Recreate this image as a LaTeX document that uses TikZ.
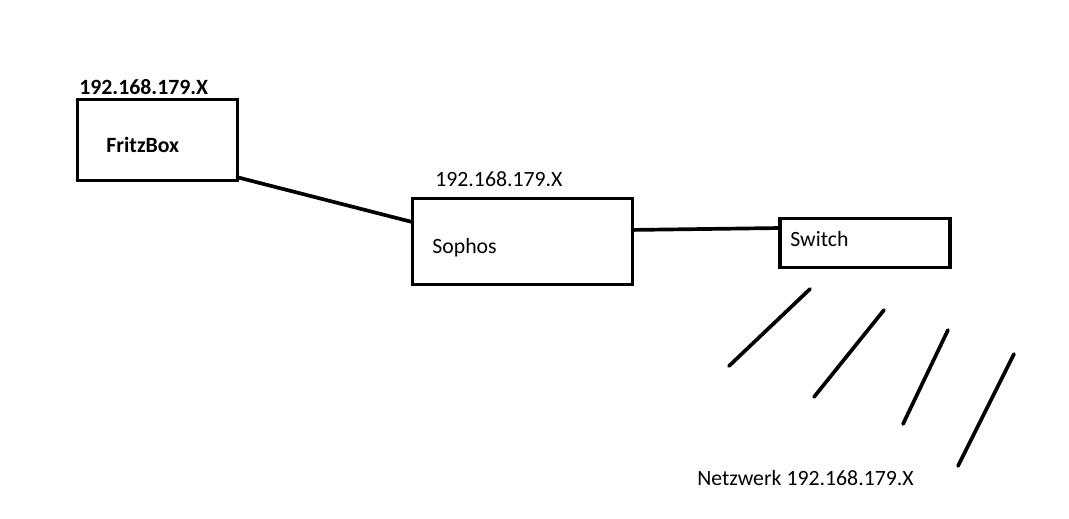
\documentclass[tikz,border=0pt]{standalone}
\usepackage{fontspec}
\setmainfont{Carlito}
\usetikzlibrary{positioning}

\begin{document}
\begin{tikzpicture}[x=0.02cm, y=-0.02cm,
    device/.style={draw, line width=2.2pt, inner sep=0pt, outer sep=0pt, anchor=north west},
    label/.style={anchor=base west, inner sep=0pt, font=\fontsize{12.4}{15}\selectfont},
    cable/.style={line width=2.1pt, line cap=round}]
            \useasboundingbox[fill=white] (0,0) rectangle (1069,518);

            % FritzBox
            \node[device, minimum width=3.2cm, minimum height=1.62cm] (fritz) at (77.5,99.5) {};
            \node[label, font=\fontsize{12.4}{15}\selectfont\bfseries] (fritzip) at (79,94) {192.168.179.X};
            \node[label, font=\fontsize{12.4}{15}\selectfont\bfseries] (fritztxt) at (106,152) {FritzBox};

            % Sophos
            \node[device, minimum width=4.4cm, minimum height=1.72cm] (sophos) at (412.5,198.5) {};
            \node[label] (sophosip) at (435,186) {192.168.179.X};
            \node[label] (sophostxt) at (432,253) {Sophos};

            % Switch
            \node[device, minimum width=3.4cm, minimum height=0.98cm] (switch) at (780,218.5) {};
            \node[label] (switchtxt) at (790,246) {Switch};

            % Kabel
            \draw[cable] (fritz.-25) -- (sophos.170);
            \draw[cable] (sophos.6) -- (switch.170);

            % Netzwerk
            \draw[cable] (729,366) -- (810,289);
            \draw[cable] (814,397) -- (884,310);
            \draw[cable] (903,424) -- (948,330);
            \draw[cable] (958,466) -- (1014,354);
            \node[label] (netz) at (697,485) {Netzwerk 192.168.179.X};
        \end{tikzpicture}
\end{document}
